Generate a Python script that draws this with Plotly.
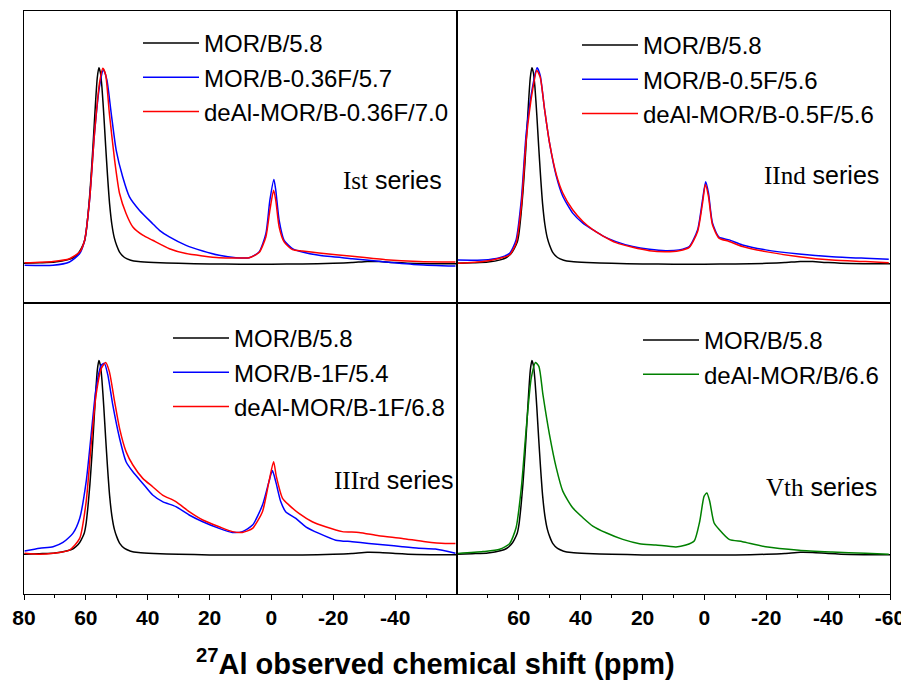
import plotly.graph_objects as go

# ---------------- data (ppm, normalized intensity) ----------------
MOR_B_58_ppm = [80, 75, 70, 66, 64, 62.5, 61.5, 60.5, 60, 59.3, 58.7, 58, 57.4, 56.8, 56.3, 55.8,
                55.3, 54.8, 54.2, 53.6, 53.0, 52.3, 51.6, 50.8, 50.0, 49.0, 47.5, 45.5, 43, 38, 30,
                20, 10, 0, -10, -20, -26, -31, -35, -40, -47, -55, -60]
MOR_B_58_int = [0.0, 0.003, 0.007, 0.018, 0.03, 0.05, 0.075, 0.11, 0.15, 0.25, 0.36, 0.52, 0.68, 0.84,
                0.95, 1.0, 0.975, 0.9, 0.76, 0.6, 0.45, 0.3, 0.2, 0.13, 0.09, 0.055, 0.03, 0.016, 0.009,
                0.004, 0.0, -0.003, -0.004, -0.004, -0.003, 0.0, 0.004, 0.01, 0.009, 0.004, -0.001,
                -0.002, -0.002]

I_blue_ppm = [79.8, 70.6, 65.3, 62.0, 60.4, 58.8, 57.2, 55.6, 54.3, 53.2, 51.8, 50.2, 48.1, 45.9, 42.7,
              38.4, 36.2, 33.0, 27.6, 22.2, 16.9, 11.5, 7.2, 4.0, 1.8, 0.5, -0.8, -1.4, -2.5, -4.1,
              -6.8, -10.0, -15.4, -26.1, -36.9, -47.6, -59.5]
I_blue_int = [-0.01, -0.01, 0.007, 0.05, 0.118, 0.323, 0.665, 0.904, 0.99, 0.938, 0.767, 0.579, 0.443,
              0.34, 0.272, 0.203, 0.169, 0.135, 0.092, 0.063, 0.041, 0.029, 0.029, 0.058, 0.152, 0.323,
              0.429, 0.374, 0.22, 0.118, 0.075, 0.058, 0.041, 0.024, 0.007, -0.007, -0.014]

I_red_ppm = [79.8, 70.6, 65.3, 62.0, 60.4, 58.8, 57.2, 55.6, 54.5, 53.6, 52.4, 50.7, 49.1, 47.0, 44.8,
             41.6, 38.4, 33.0, 27.6, 22.2, 16.9, 11.5, 7.2, 4.0, 1.8, 0.5, -0.7, -1.4, -2.5, -4.1,
             -6.8, -10.0, -15.4, -26.1, -36.9, -47.6, -59.5]
I_red_int = [0.003, 0.01, 0.024, 0.058, 0.118, 0.323, 0.665, 0.921, 0.998, 0.964, 0.767, 0.528, 0.357,
             0.255, 0.186, 0.144, 0.118, 0.075, 0.05, 0.038, 0.029, 0.027, 0.029, 0.055, 0.135, 0.272,
             0.374, 0.323, 0.186, 0.11, 0.07, 0.063, 0.053, 0.036, 0.019, 0.01, 0.007]

II_blue_ppm = [79.7, 71.6, 66.2, 63.0, 60.9, 59.2, 57.6, 55.5, 54.1, 53.1, 51.7, 50.1, 47.9, 45.8, 42.6,
               39.3, 36.1, 32.9, 28.6, 23.2, 17.8, 12.5, 8.2, 4.9, 2.2, 0.6, -0.4, -1.3, -2.6, -4.7,
               -8.0, -12.3, -19.8, -30.6, -41.3, -52.1, -59.6]
II_blue_int = [0.017, 0.017, 0.029, 0.051, 0.12, 0.326, 0.669, 0.909, 1.0, 0.96, 0.789, 0.617, 0.446,
               0.343, 0.257, 0.206, 0.172, 0.141, 0.111, 0.086, 0.072, 0.065, 0.069, 0.086, 0.172,
               0.326, 0.417, 0.36, 0.206, 0.134, 0.12, 0.094, 0.069, 0.048, 0.034, 0.026, 0.021]

II_red_ppm = [79.7, 71.6, 66.2, 63.0, 60.9, 59.2, 57.6, 55.5, 54.2, 53.1, 51.7, 50.1, 47.9, 45.8, 42.6,
              39.3, 36.1, 32.9, 28.6, 23.2, 17.8, 12.5, 8.2, 4.9, 2.2, 0.6, -0.3, -1.3, -2.6, -4.7,
              -8.0, -12.3, -19.8, -30.6, -41.3, -52.1, -59.6]
II_red_int = [0.0, 0.009, 0.026, 0.043, 0.103, 0.292, 0.635, 0.892, 0.986, 0.952, 0.789, 0.617, 0.455,
              0.36, 0.274, 0.214, 0.172, 0.141, 0.106, 0.082, 0.065, 0.06, 0.065, 0.082, 0.163, 0.309,
              0.403, 0.343, 0.197, 0.129, 0.112, 0.086, 0.06, 0.034, 0.017, 0.009, 0.003]

III_blue_ppm = [79.8, 74.9, 70.6, 67.4, 64.2, 62.0, 59.9, 58.3, 56.7, 55.0, 54.0, 52.9, 51.3, 49.1,
                47.0, 44.8, 41.6, 38.4, 35.2, 30.9, 26.6, 22.2, 16.9, 12.6, 9.4, 6.1, 2.9, 0.8, -0.3,
                -1.4, -3.0, -4.6, -7.9, -11.1, -15.4, -20.8, -26.1, -31.5, -36.9, -42.3, -47.6,
                -53.0, -59.5]
III_blue_int = [0.017, 0.031, 0.039, 0.061, 0.108, 0.185, 0.375, 0.616, 0.857, 0.977, 0.986, 0.926,
                0.771, 0.599, 0.478, 0.426, 0.366, 0.306, 0.272, 0.246, 0.203, 0.168, 0.134, 0.113,
                0.117, 0.151, 0.254, 0.375, 0.432, 0.375, 0.272, 0.22, 0.185, 0.142, 0.108, 0.073,
                0.065, 0.056, 0.048, 0.039, 0.031, 0.027, 0.005]

III_red_ppm = [79.8, 74.9, 70.6, 65.3, 62.0, 59.9, 58.3, 56.7, 55.0, 53.6, 52.4, 50.7, 49.1, 47.0,
               44.8, 41.6, 38.4, 35.2, 30.9, 26.6, 22.2, 16.9, 12.6, 9.4, 6.1, 2.9, 0.8, -0.7, -1.6,
               -3.6, -5.7, -8.9, -13.2, -17.5, -22.9, -28.3, -34.7, -42.3, -49.8, -56.2, -59.5]
III_red_int = [0.005, 0.0, 0.005, 0.022, 0.082, 0.272, 0.564, 0.823, 0.96, 0.99, 0.943, 0.788, 0.65,
               0.53, 0.461, 0.392, 0.349, 0.306, 0.272, 0.22, 0.177, 0.142, 0.117, 0.113, 0.134, 0.22,
               0.375, 0.478, 0.401, 0.289, 0.254, 0.211, 0.168, 0.142, 0.117, 0.113, 0.096, 0.082,
               0.065, 0.056, 0.056]

V_green_ppm = [79.7, 71.6, 66.2, 63.0, 60.9, 59.2, 57.6, 56.0, 54.6, 53.5, 52.2, 50.1, 47.9, 45.8,
               42.6, 39.3, 36.1, 31.8, 26.4, 21.0, 15.7, 9.2, 6.0, 3.3, 1.5, 0.1, -0.8, -1.7, -3.1,
               -4.7, -8.0, -12.3, -19.8, -30.6, -41.3, -52.1, -59.6]
V_green_int = [0.004, 0.014, 0.026, 0.055, 0.137, 0.343, 0.652, 0.909, 0.99, 0.969, 0.823, 0.618,
               0.446, 0.326, 0.24, 0.189, 0.146, 0.111, 0.077, 0.055, 0.048, 0.038, 0.048, 0.069,
               0.172, 0.3, 0.317, 0.274, 0.163, 0.129, 0.077, 0.065, 0.039, 0.021, 0.012, 0.005, 0.0]

left_ticks = [80, 60, 40, 20, 0, -20, -40]
left_tick_text = ["80", "60", "40", "20", "0", "-20", "-40"]
right_ticks = [60, 40, 20, 0, -20, -40, -60]
right_tick_text = ["60", "40", "20", "0", "-20", "-40", "-60"]
minor_ticks = [70, 50, 30, 10, -10, -30, -50]
series_labels = [
    "<span style='font-family:Liberation Serif'>Ist</span> series",
    "<span style='font-family:Liberation Serif'>IInd</span> series",
    "<span style='font-family:Liberation Serif'>IIIrd</span> series",
    "<span style='font-family:Liberation Serif'>Vth</span> series",
]
x_title = "<sup>27</sup>Al observed chemical shift (ppm)"

# panels: (xaxis, yaxis, legend, curves)
panels = [
    ("x3", "y3", "legend", [
        ("MOR/B/5.8", MOR_B_58_ppm, MOR_B_58_int, "#000000"),
        ("MOR/B-0.36F/5.7", I_blue_ppm, I_blue_int, "#0000FF"),
        ("deAl-MOR/B-0.36F/7.0", I_red_ppm, I_red_int, "#FF0000")]),
    ("x4", "y4", "legend2", [
        ("MOR/B/5.8", MOR_B_58_ppm, MOR_B_58_int, "#000000"),
        ("MOR/B-0.5F/5.6", II_blue_ppm, II_blue_int, "#0000FF"),
        ("deAl-MOR/B-0.5F/5.6", II_red_ppm, II_red_int, "#FF0000")]),
    ("x", "y", "legend3", [
        ("MOR/B/5.8", MOR_B_58_ppm, MOR_B_58_int, "#000000"),
        ("MOR/B-1F/5.4", III_blue_ppm, III_blue_int, "#0000FF"),
        ("deAl-MOR/B-1F/6.8", III_red_ppm, III_red_int, "#FF0000")]),
    ("x2", "y2", "legend4", [
        ("MOR/B/5.8", MOR_B_58_ppm, MOR_B_58_int, "#000000"),
        ("deAl-MOR/B/6.6", V_green_ppm, V_green_int, "#008000")]),
]

fig = go.Figure()
for xa, ya, lg, curves in panels:
    for name, xs, ys, col in curves:
        fig.add_trace(go.Scatter(x=xs, y=ys, mode="lines", name=name, xaxis=xa, yaxis=ya,
                                 legend=lg,
                                 line=dict(color=col, width=1.5, shape="spline", smoothing=0.6)))

SANS = "Liberation Sans, Arial, sans-serif"
split = 0.5
common_x = dict(range=[80, -60], showline=True, mirror=True, linecolor="black", linewidth=1.3,
                showgrid=False, zeroline=False, automargin=False)
common_y = dict(showline=True, mirror=True, linecolor="black", linewidth=1.3, showgrid=False,
                zeroline=False, showticklabels=False, ticks="", automargin=False)
tickfont = dict(family=SANS, size=21, color="black", weight="bold")
minor = dict(tickvals=minor_ticks, ticks="outside", ticklen=3, tickwidth=1.2, tickcolor="black")

# the page body has an 8px default margin: the figure is sized so that the plot area
# lands at x 24..890, y 11..594 in the 909x680 window
fig.update_layout(
    template="none",
    width=901, height=672,
    margin=dict(l=16, r=19, t=3, b=86),
    paper_bgcolor="white", plot_bgcolor="white",
    font=dict(family=SANS, color="black"),
    xaxis=dict(common_x, domain=[0, split], anchor="y", tickmode="array", tickvals=left_ticks,
               ticktext=left_tick_text, ticks="outside", ticklen=5, tickwidth=1.2,
               tickcolor="black", tickfont=tickfont, minor=minor),
    xaxis2=dict(common_x, domain=[split, 1], anchor="y2", tickmode="array", tickvals=right_ticks,
                ticktext=right_tick_text, ticks="outside", ticklen=5, tickwidth=1.2,
                tickcolor="black", tickfont=tickfont, minor=minor),
    xaxis3=dict(common_x, domain=[0, split], anchor="y3", showticklabels=False, ticks=""),
    xaxis4=dict(common_x, domain=[split, 1], anchor="y4", showticklabels=False, ticks=""),
    yaxis=dict(common_y, domain=[0, split], anchor="x", range=[-0.205, 1.30]),
    yaxis2=dict(common_y, domain=[0, split], anchor="x2", range=[-0.205, 1.30]),
    yaxis3=dict(common_y, domain=[split, 1], anchor="x3", range=[-0.2, 1.29]),
    yaxis4=dict(common_y, domain=[split, 1], anchor="x4", range=[-0.2, 1.29]),
)

def px_to_paper_x(px):
    return (px - 24) / 866.0

def px_to_paper_y(py):
    return (594 - py) / 583.0

leg_common = dict(font=dict(family=SANS, size=24, color="black"), bgcolor="rgba(0,0,0,0)",
                  borderwidth=0, xanchor="left", yanchor="top", itemwidth=56, tracegroupgap=0)
fig.update_layout(
    legend=dict(leg_common, x=px_to_paper_x(138), y=px_to_paper_y(21)),
    legend2=dict(leg_common, x=px_to_paper_x(577), y=px_to_paper_y(23)),
    legend3=dict(leg_common, x=px_to_paper_x(168), y=px_to_paper_y(316)),
    legend4=dict(leg_common, x=px_to_paper_x(638), y=px_to_paper_y(318)),
)

label_pos = [(341, 180), (762, 175), (332, 480), (764, 487)]
for txt, (lx, ly) in zip(series_labels, label_pos):
    fig.add_annotation(text=txt, x=px_to_paper_x(lx), y=px_to_paper_y(ly), xref="paper",
                       yref="paper", xanchor="left", yanchor="middle", showarrow=False,
                       font=dict(family=SANS, size=25, color="black"))

fig.add_annotation(text=x_title, x=px_to_paper_x(435.5), y=px_to_paper_y(662), xref="paper",
                   yref="paper", xanchor="center", yanchor="middle", showarrow=False,
                   font=dict(family=SANS, size=29, color="black", weight="bold"))

fig.write_html("out.html")
